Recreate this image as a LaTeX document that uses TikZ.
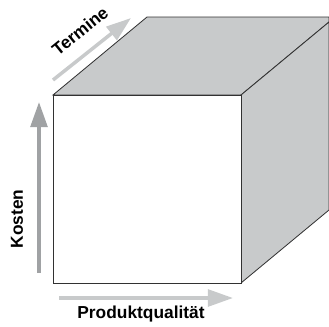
\documentclass[tikz,border=0pt]{standalone}
\usepackage{fontspec}
\usepackage{xcolor}
\setmainfont{Liberation Sans}
\usetikzlibrary{arrows.meta}
\definecolor{facegray}{RGB}{200, 202, 203}
\definecolor{edgegray}{RGB}{50, 50, 50}
\definecolor{darkarrow}{RGB}{160, 162, 164}

\begin{document}
\begin{tikzpicture}[
    x=0.03cm, y=-0.03cm,
    face/.style={draw=edgegray, fill=facegray, line width=0.7pt, line join=miter},
    front/.style={draw=edgegray, fill=white, line width=0.7pt},
    arrow/.style={-{Triangle[length=0.75cm, width=0.5cm]}, line width=0.105cm, color=facegray},
    label/.style={font=\fontsize{14.8}{16}\selectfont\bfseries, text=black, inner sep=0pt}
]
    \useasboundingbox (0, 0) rectangle (329, 326);

    % cube corners
    \coordinate (fronttl) at (53, 95);
    \coordinate (fronttr) at (241, 95);
    \coordinate (frontbr) at (241, 283);
    \coordinate (frontbl) at (53, 283);
    \coordinate (backtl) at (147, 17);
    \coordinate (backtr) at (329, 17);
    \coordinate (backmr) at (329, 22);
    \coordinate (backbr) at (329, 210);

    \draw[face] (fronttl) -- (backtl) -- (backtr) -- (backmr) -- (fronttr) -- cycle;
    \draw[face] (fronttr) -- (backmr) -- (backbr) -- (frontbr) -- cycle;
    \draw[front] (fronttl) rectangle (frontbr);

    % arrow ends
    \coordinate (terminestart) at (53, 80);
    \coordinate (terminetip) at (131, 18);
    \coordinate (kostenstart) at (39, 273);
    \coordinate (kostentip) at (39, 102);
    \coordinate (qualstart) at (59, 298);
    \coordinate (qualtip) at (233, 298);

    \draw[arrow] (terminestart) -- (terminetip);
    \draw[arrow, color=darkarrow] (kostenstart) -- (kostentip);
    \draw[arrow] (qualstart) -- (qualtip);

    \node[label, rotate=39] (termine) at (80, 31) {Termine};
    \node[label, rotate=90] (kosten) at (17, 219) {Kosten};
    \node[label] (qualitaet) at (141, 314) {Produktqualität};
\end{tikzpicture}
\end{document}
